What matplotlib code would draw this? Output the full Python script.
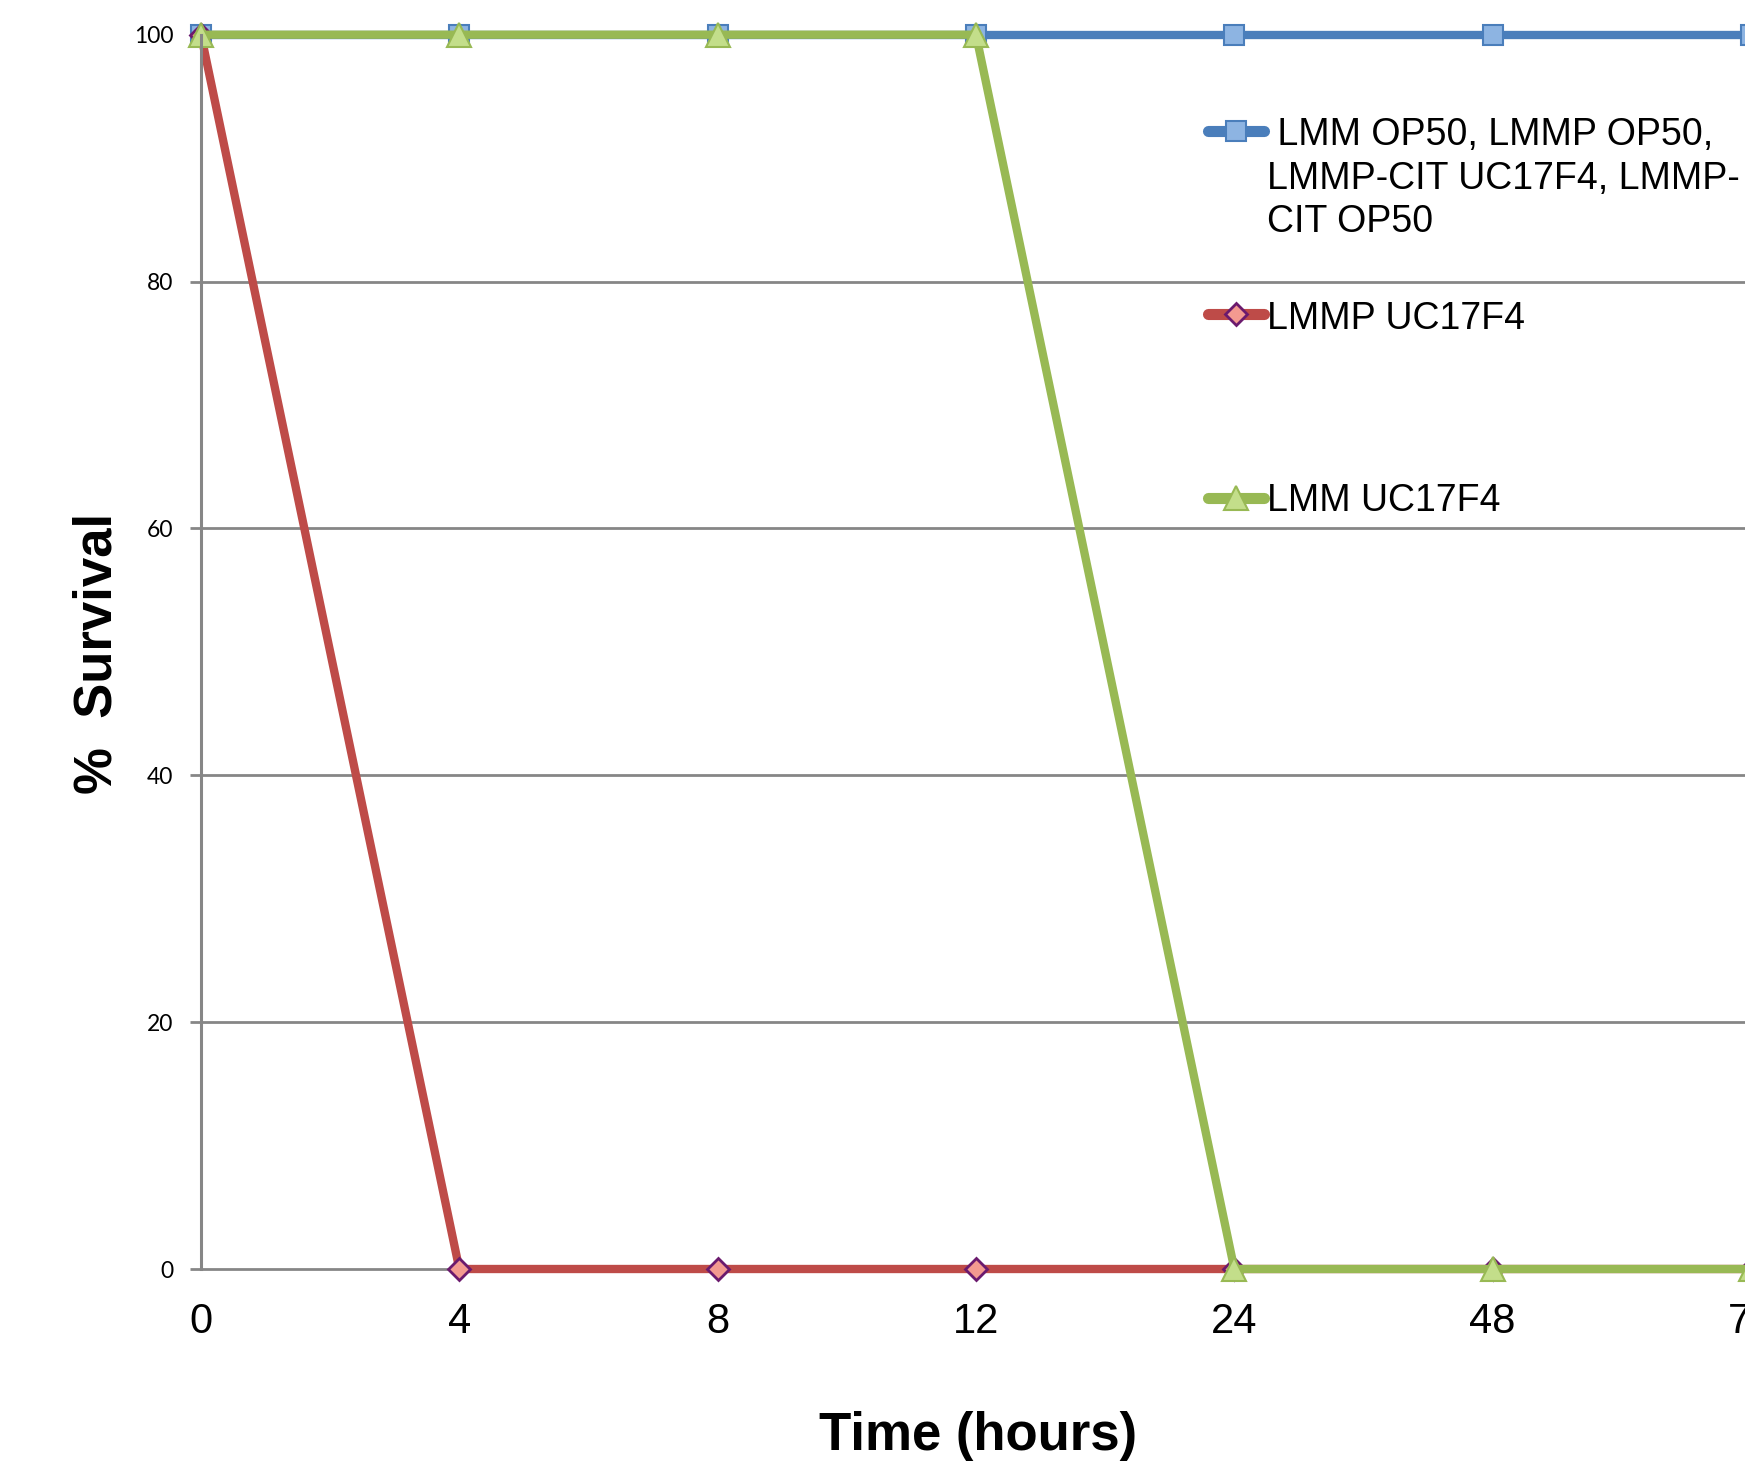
import matplotlib
matplotlib.use("Agg")
import matplotlib.pyplot as plt
from matplotlib.lines import Line2D

# data
times = ["0", "4", "8", "12", "24", "48", "72"]
blue_survival = [100, 100, 100, 100, 100, 100, 100]
red_survival = [100, 0, 0, 0, 0, 0, 0]
green_survival = [100, 100, 100, 100, 0, 0, 0]
labels = [" LMM OP50, LMMP OP50,\nLMMP-CIT UC17F4, LMMP-\nCIT OP50",
          "LMMP UC17F4",
          "LMM UC17F4"]

W, H = 1745, 1465
fig = plt.figure(figsize=(W / 100, H / 100), dpi=100)
# plot area runs a little past the right edge of the picture
ax = fig.add_axes([201 / W, 1 - 1269 / H, (1751 - 201) / W, (1269 - 34.7) / H])

gray = "#868686"
x = list(range(len(times)))

styles = [
    dict(color="#4A7EBB", marker="s", markersize=15, markerfacecolor="#8DB4E2",
         markeredgecolor="#4A7EBB", markeredgewidth=1.5),
    dict(color="#BE4B48", marker="D", markersize=11, markerfacecolor="#F39A90",
         markeredgecolor="#6B1A6E", markeredgewidth=2),
    dict(color="#98B954", marker="^", markersize=17, markerfacecolor="#C3DE8A",
         markeredgecolor="#98B954", markeredgewidth=1.5),
]

for vals, st in zip([blue_survival, red_survival, green_survival], styles):
    ax.plot(x, vals, linewidth=6, clip_on=False, solid_joinstyle="miter", **st)

ax.set_xlim(0, 6)
ax.set_ylim(0, 100)
ax.set_xticks(x)
ax.set_xticklabels(times, fontsize=30, fontfamily="Liberation Sans")
ax.set_yticks([0, 20, 40, 60, 80, 100])
ax.set_yticklabels(["0", "20", "40", "60", "80", "100"], fontsize=16.5, fontfamily="Lato")
ax.tick_params(axis="x", length=0, pad=24)
ax.tick_params(axis="y", length=8, width=2, color=gray, pad=12)

ax.grid(axis="y", color=gray, linewidth=2)
for gl in ax.get_ygridlines():
    gl.set_clip_on(False)
ax.set_axisbelow(True)
for s in ["top", "right", "bottom"]:
    ax.spines[s].set_visible(False)
ax.spines["left"].set_color(gray)
ax.spines["left"].set_linewidth(2.2)

fig.text(978 / W, 1 - 1450 / H, "Time (hours)", fontsize=38, fontweight="bold",
         fontfamily="Liberation Sans", ha="center", va="baseline")
fig.text(98 / W, 1 - 653 / H, "%  Survival", fontsize=38, fontweight="bold",
         fontfamily="Liberation Sans", ha="center", va="center", rotation=90)

# legend drawn by hand, Excel style
handle_y = [130.5, 314, 498]
text_base = [[144.6, 189.3, 232], [328.6], [511.4]]
for hy, bases, lab, st in zip(handle_y, text_base, labels, styles):
    hy_f = 1 - hy / H
    fig.add_artist(Line2D([1208 / W, 1236 / W, 1264 / W], [hy_f] * 3,
                          linewidth=8, solid_capstyle="round", markevery=[1], **st))
    for b, line in zip(bases, lab.split("\n")):
        fig.text(1267 / W, 1 - b / H, line, fontsize=27, fontfamily="Liberation Sans",
                 ha="left", va="baseline")

fig.savefig("out.png", dpi=100)
